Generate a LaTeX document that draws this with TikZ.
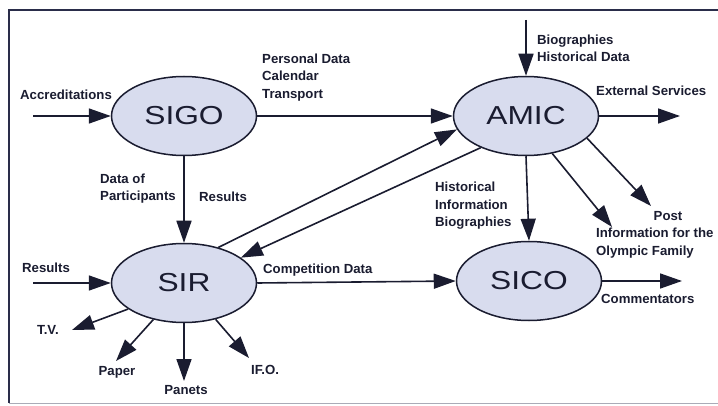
\documentclass[tikz,border=0pt]{standalone}
\usepackage{fontspec}
\setmainfont{Liberation Sans}
\usetikzlibrary{arrows.meta,shapes.geometric}
\definecolor{ink}{HTML}{1A1C30}
\definecolor{bubble}{HTML}{D8DCEE}
\definecolor{frame}{HTML}{2A2D4A}
\tikzset{
  proc/.style={ellipse, draw=ink, line width=1.5pt, fill=bubble, minimum width=145pt, minimum height=79pt, inner sep=0pt, text=ink},
  lbl/.style={font=\bfseries\fontsize{13.2}{17.5}\selectfont, text=ink, inner sep=0pt, align=left},
  flow/.style={draw=ink, line width=1.6pt, -{Triangle[length=22pt,width=15pt]}}
}
\newcommand{\bigname}[1]{\scalebox{1.22}[1]{\fontsize{26}{26}\selectfont #1}}
\begin{document}
\begin{tikzpicture}[x=1pt,y=-1pt]
\useasboundingbox (0,0) rectangle (718,406);
\fill[white] (0,0) rectangle (718,406);
% frame
\draw[frame, line width=1.6pt] (740,10) -- (9,10) -- (9,403);
\draw[frame!40, line width=1pt] (9,403) -- (740,403);

% processes
\node[proc] (SIGO) at (184,116) {\bigname{SIGO}};
\node[proc] (AMIC) at (526,116) {\bigname{AMIC}};
\node[proc] (SIR)  at (184,283) {\bigname{SIR}};
\node[proc] (SICO) at (529,281) {\bigname{SICO}};

% free ends
\coordinate (accS) at (33,116);
\coordinate (resS) at (33,283);
\coordinate (bioS) at (526,20);
\coordinate (extE) at (680,116);
\coordinate (comE) at (682,281);
\coordinate (postE) at (651,206);
\coordinate (infoE) at (612,227);
\coordinate (tvE) at (72,330);
\coordinate (paperE) at (116,361);
\coordinate (panetsE) at (184,381);
\coordinate (ifoE) at (249,358);

% labels
\node[lbl, anchor=west] (lAcc) at (20,95) {Accreditations};
\node[lbl, anchor=west] (lPers) at (262,77.5) {Personal Data\\Calendar\\Transport};
\node[lbl, anchor=west] (lBio) at (537,48.5) {Biographies\\Historical Data};
\node[lbl, anchor=west] (lExt) at (596,91) {External Services};
\node[lbl, anchor=west] (lDat) at (100,188.5) {Data of\\Participants};
\node[lbl, anchor=west] (lRes1) at (199,197) {Results};
\node[lbl, anchor=west] (lHist) at (435,206) {Historical\\Information\\Biographies};
\node[lbl] (lPost) at (668,216) {Post};
\node[lbl, anchor=west] (lInfo) at (596,243) {Information for the\\Olympic Family};
\node[lbl, anchor=west] (lRes2) at (22,268) {Results};
\node[lbl, anchor=west] (lComp) at (263,270) {Competition Data};
\node[lbl, anchor=west] (lCom) at (601,299) {Commentators};
\node[lbl, anchor=west] (lTV) at (37,330) {T.V.};
\node[lbl] (lPaper) at (117,372) {Paper};
\node[lbl] (lPanets) at (186,390) {Panets};
\node[lbl, anchor=west] (lIFO) at (251,370) {IF.O.};

% flows
\draw[flow] (accS) -- (SIGO.west);
\draw[flow] (SIGO.east) -- (AMIC.west);
\draw[flow] (SIGO.south) -- (SIR.north);
\draw[flow] (bioS) -- (AMIC.north);
\draw[flow] (AMIC.east) -- (extE);
\draw[flow] (SIR.46) -- (AMIC.191);
\draw[flow] (AMIC.215) -- (SIR.24);
\draw[flow] (AMIC.south) -- (SICO.north);
\draw[flow] (AMIC.305) -- (infoE);
\draw[flow] (AMIC.340) -- (postE);
\draw[flow] (SIR.east) -- (SICO.west);
\draw[flow] (SICO.east) -- (comE);
\draw[flow] (resS) -- (SIR.west);
\draw[flow] (SIR.205) -- (tvE);
\draw[flow] (SIR.230) -- (paperE);
\draw[flow] (SIR.south) -- (panetsE);
\draw[flow] (SIR.311) -- (ifoE);
\end{tikzpicture}
\end{document}
